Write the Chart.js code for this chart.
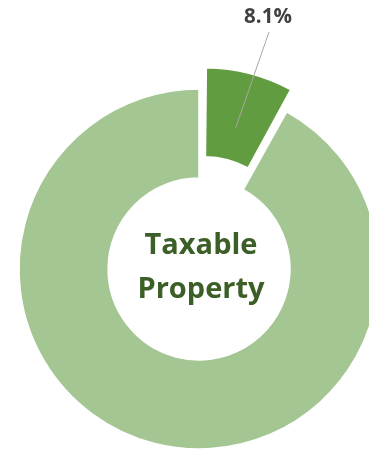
<!DOCTYPE html>
<html>
<head>
<meta charset="utf-8">
<script src="https://cdn.jsdelivr.net/npm/chart.js@4.4.1/dist/chart.umd.min.js"></script>
<style>
html, body { margin:0; padding:0; background:#fff; width:369px; height:451px; overflow:hidden; }
#wrap { position:absolute; left:-81px; top:-11px; width:560px; height:560px; }
</style>
</head>
<body>
<div id="wrap"><canvas id="myChart" width="560" height="560"></canvas></div>
<script>
// values
const categories = ['Share', 'Remainder'];
const shares = [8.1, 91.9];
const sliceColors = ['#629C40', '#A3C692'];
const explode = [22, 0];           // px the slice is pulled out
const centerLines = ['Taxable', 'Property'];

// chart.js v4 grows the radii of an offset arc too, undo that so it only slides out
const explodeFix = {
    id: 'explodeFix',
    afterDatasetsUpdate(chart) {
        const meta = chart.getDatasetMeta(0);
        meta.data.forEach((arc, i) => {
            const off = explode[i];
            if (!off) return;
            const fix = 1 - Math.sin(Math.min(Math.PI, arc.circumference));
            arc.innerRadius -= off * fix;
            arc.outerRadius -= off * fix;
        });
    }
};

const labels = {
    id: 'labels',
    afterDraw(chart) {
        const ctx = chart.ctx;
        const arc = chart.getDatasetMeta(0).data[0];
        const cx = arc.x, cy = arc.y;
        const mid = (arc.startAngle + arc.endAngle) / 2;
        const r = (arc.innerRadius + arc.outerRadius) / 2 + explode[0];
        const px = cx + Math.cos(mid) * r;
        const py = cy + Math.sin(mid) * r;

        ctx.save();
        // leader line
        ctx.strokeStyle = '#A6A6A6';
        ctx.lineWidth = 1;
        ctx.beginPath();
        ctx.moveTo(cx + 70, cy - 237);
        ctx.lineTo(px, py);
        ctx.stroke();

        ctx.fillStyle = '#404040';
        ctx.font = 'bold 20.5px "Open Sans"';
        ctx.textAlign = 'center';
        ctx.textBaseline = 'alphabetic';
        ctx.fillText(shares[0].toFixed(1) + '%', cx + 69, cy - 246);

        ctx.fillStyle = '#3C5E27';
        ctx.font = 'bold 29px "Open Sans"';
        ctx.fillText(centerLines[0], cx + 2, cy - 15);
        ctx.fillText(centerLines[1], cx + 2, cy + 29);
        ctx.restore();
    }
};

const ctx = document.getElementById('myChart').getContext('2d');
const myChart = new Chart(ctx, {
    type: 'doughnut',
    data: {
        labels: categories,
        datasets: [{
            data: shares,
            backgroundColor: sliceColors,
            borderColor: '#ffffff',
            borderWidth: 1.5,
            offset: explode.map(v => v * 4)
        }]
    },
    options: {
        responsive: false,
        animation: false,
        radius: 180,
        cutout: '50.5%',
        layout: { padding: 0 },
        plugins: {
            legend: { display: false },
            tooltip: { enabled: false }
        }
    },
    plugins: [explodeFix, labels]
});
</script>
</body>
</html>
